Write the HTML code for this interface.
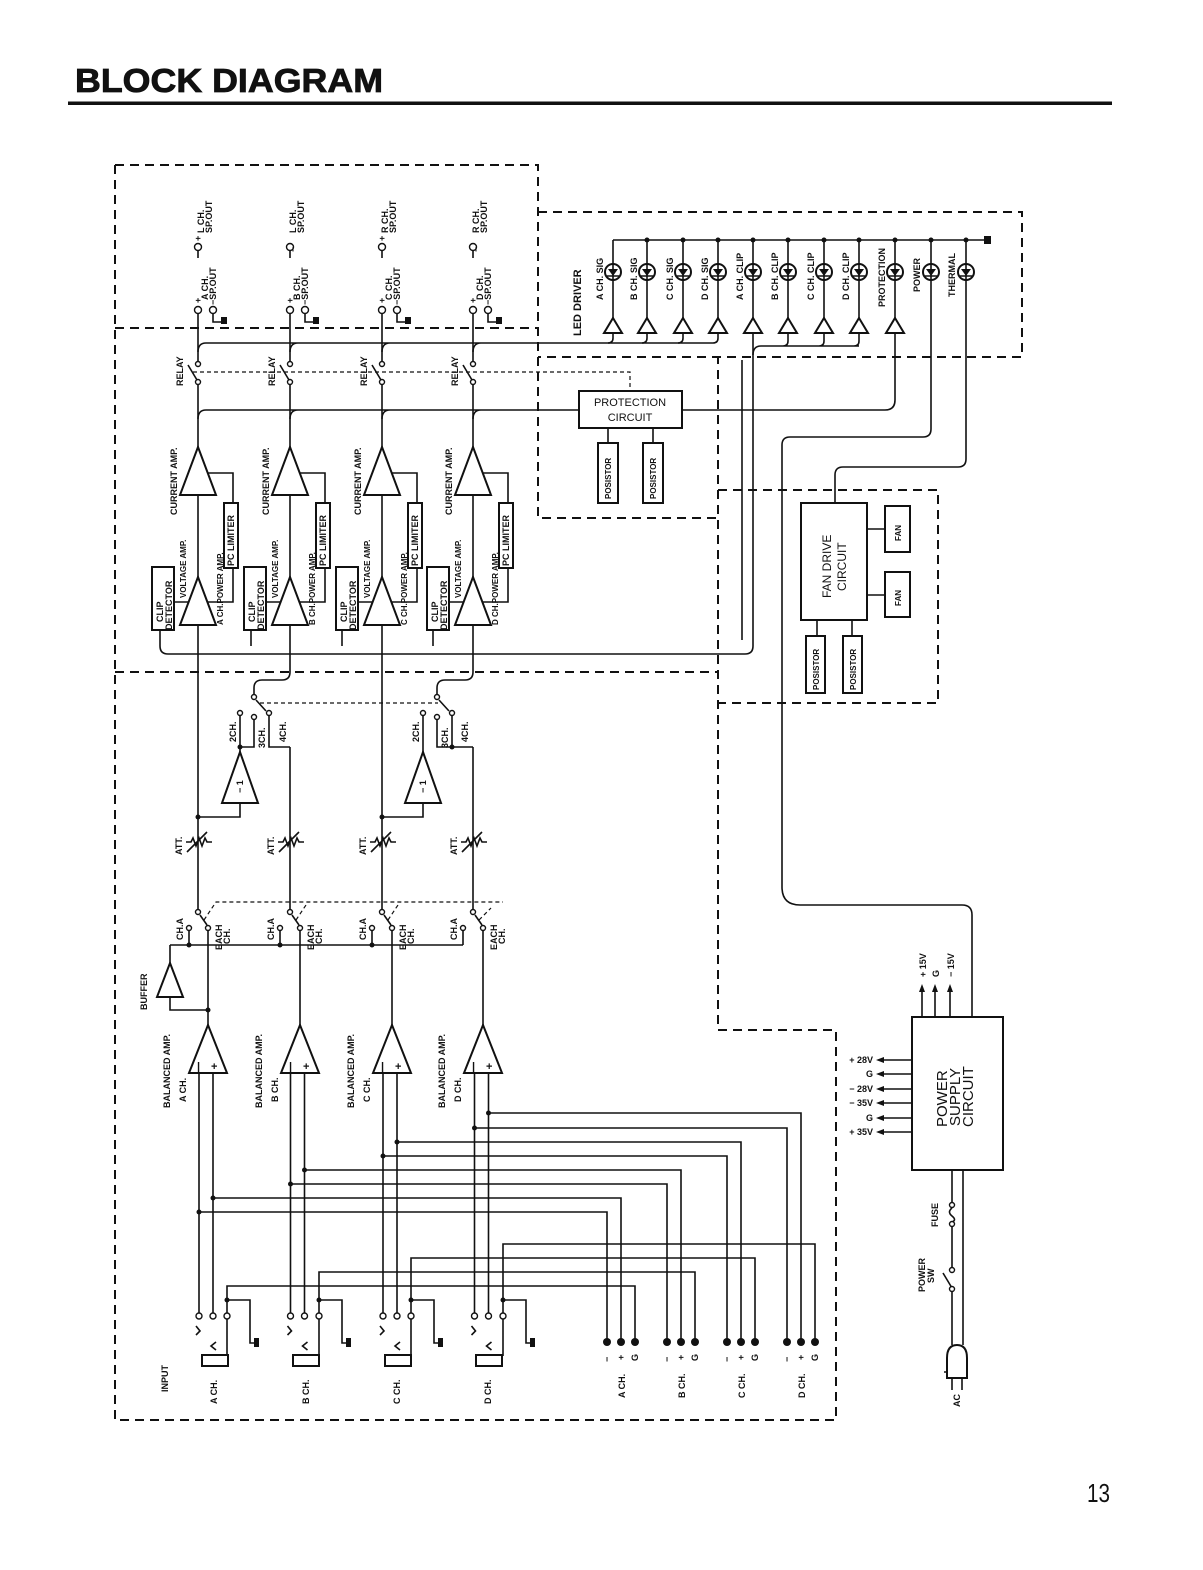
<!DOCTYPE html>
<html><head><meta charset="utf-8"><style>
html,body{margin:0;padding:0;background:#fff;}
svg{display:block;}
text{font-family:"Liberation Sans",sans-serif;font-weight:bold;fill:#111;}
.t{font-size:9px;}
.s{font-size:8px;}
.u{font-size:8px;}
.l{fill:none;stroke:#111;stroke-width:1.6;}
.d{fill:none;stroke:#111;stroke-width:2;stroke-dasharray:9,6;}
.dd{fill:none;stroke:#111;stroke-width:1.2;stroke-dasharray:4,3;}
.o{fill:#fff;stroke:#111;stroke-width:1.4;}
.b{fill:#fff;stroke:#111;stroke-width:2;}
.f{fill:#111;}
</style></head><body>
<svg width="1203" height="1570" viewBox="0 0 1203 1570" xmlns="http://www.w3.org/2000/svg">
<text x="75" y="92" style="font-size:33px;font-weight:bold;stroke:#111;stroke-width:0.8" textLength="308" lengthAdjust="spacingAndGlyphs">BLOCK DIAGRAM</text>
<rect x="68" y="101.5" width="1044" height="3.5" fill="#111"/>
<text x="1087" y="1502" style="font-size:26px;font-weight:normal" textLength="23" lengthAdjust="spacingAndGlyphs">13</text>

<!-- dashed boxes -->
<path class="d" d="M115,165 H538 V518 H718 M115,165 V1420 H836 V1030 H718 V357 M115,328 H538 M538,212 H1022 V357 H538 M115,672 H718 M718,490 H938 V703 H718"/>

<!-- global buses -->
<path class="l" d="M198,352 Q198,343 206,343 H713 M290,352 Q290,343 298,343 M382,352 Q382,343 390,343 M473,352 Q473,343 481,343"/>
<path class="l" d="M198,419 Q198,410 206,410 H579 M290,419 Q290,410 298,410 M382,419 Q382,410 390,410 M473,419 Q473,410 481,410"/>
<path class="dd" d="M193,372 H630 V391"/>
<path class="l" d="M160,630 V646 Q160,654 168,654 H745 Q753,654 753,646 V333 M251,630 V646 M342,630 V646 M433,630 V646"/>
<path class="l" d="M742,360 V640"/>

<!-- channel top groups -->
<g>
<path class="l" d="M198,258 V251 M198,313 V361 M198,385 V447 M213,313 V322 H222 M188,365 L197,380 M198,495 V577 M207,473 H233 V503 M233,568 V602 H206 M174,602 H189 M198,625 V672"/>
<circle class="o" cx="198" cy="247" r="3.5"/><circle class="o" cx="198" cy="310" r="3.5"/><circle class="o" cx="213" cy="310" r="3.5"/>
<circle class="o" cx="198" cy="364" r="2.5"/><circle class="o" cx="198" cy="382" r="2.5"/>
<rect class="f" x="221" y="317" width="6" height="7"/>
<polygon class="b" points="198,447 216,495 180,495"/>
<polygon class="b" points="198,577 216,625 180,625"/>
<rect class="b" x="224" y="503" width="14" height="65"/>
<rect class="b" x="152" y="567" width="22" height="63"/>
<text class="t" transform="translate(201,241) rotate(-90)">+</text>
<text class="t" transform="translate(204,233) rotate(-90)">L CH.</text>
<text class="t" transform="translate(212,233) rotate(-90)">SP.OUT</text>
<text class="t" transform="translate(201,303) rotate(-90)">+</text>
<text class="t" transform="translate(208,300) rotate(-90)">A CH.</text>
<text class="t" transform="translate(216,305) rotate(-90)">−SP.OUT</text>
<text class="t" transform="translate(183,386) rotate(-90)">RELAY</text>
<text class="t" transform="translate(177,515) rotate(-90)">CURRENT  AMP.</text>
<text class="u" transform="translate(186,598) rotate(-90)">VOLTAGE  AMP.</text>
<text class="u" transform="translate(223,625) rotate(-90)">A  CH.POWER  AMP.</text>
<text class="t" transform="translate(234,566) rotate(-90)">PC LIMITER</text>
<text class="t" transform="translate(163,622) rotate(-90)">CLIP</text>
<text class="t" transform="translate(172,630) rotate(-90)">DETECTOR</text>
</g>
<g transform="translate(92,0)">
<path class="l" d="M198,258 V251 M198,313 V361 M198,385 V447 M213,313 V322 H222 M188,365 L197,380 M198,495 V577 M207,473 H233 V503 M233,568 V602 H206 M174,602 H189 M198,625 V672"/>
<circle class="o" cx="198" cy="247" r="3.5"/><circle class="o" cx="198" cy="310" r="3.5"/><circle class="o" cx="213" cy="310" r="3.5"/>
<circle class="o" cx="198" cy="364" r="2.5"/><circle class="o" cx="198" cy="382" r="2.5"/>
<rect class="f" x="221" y="317" width="6" height="7"/>
<polygon class="b" points="198,447 216,495 180,495"/>
<polygon class="b" points="198,577 216,625 180,625"/>
<rect class="b" x="224" y="503" width="14" height="65"/>
<rect class="b" x="152" y="567" width="22" height="63"/>
<text class="t" transform="translate(204,252) rotate(-90)">−</text>
<text class="t" transform="translate(204,233) rotate(-90)">L CH.</text>
<text class="t" transform="translate(212,233) rotate(-90)">SP.OUT</text>
<text class="t" transform="translate(201,303) rotate(-90)">+</text>
<text class="t" transform="translate(208,300) rotate(-90)">B CH.</text>
<text class="t" transform="translate(216,305) rotate(-90)">−SP.OUT</text>
<text class="t" transform="translate(183,386) rotate(-90)">RELAY</text>
<text class="t" transform="translate(177,515) rotate(-90)">CURRENT  AMP.</text>
<text class="u" transform="translate(186,598) rotate(-90)">VOLTAGE  AMP.</text>
<text class="u" transform="translate(223,625) rotate(-90)">B  CH.POWER  AMP.</text>
<text class="t" transform="translate(234,566) rotate(-90)">PC LIMITER</text>
<text class="t" transform="translate(163,622) rotate(-90)">CLIP</text>
<text class="t" transform="translate(172,630) rotate(-90)">DETECTOR</text>
</g>
<g transform="translate(184,0)">
<path class="l" d="M198,258 V251 M198,313 V361 M198,385 V447 M213,313 V322 H222 M188,365 L197,380 M198,495 V577 M207,473 H233 V503 M233,568 V602 H206 M174,602 H189 M198,625 V672"/>
<circle class="o" cx="198" cy="247" r="3.5"/><circle class="o" cx="198" cy="310" r="3.5"/><circle class="o" cx="213" cy="310" r="3.5"/>
<circle class="o" cx="198" cy="364" r="2.5"/><circle class="o" cx="198" cy="382" r="2.5"/>
<rect class="f" x="221" y="317" width="6" height="7"/>
<polygon class="b" points="198,447 216,495 180,495"/>
<polygon class="b" points="198,577 216,625 180,625"/>
<rect class="b" x="224" y="503" width="14" height="65"/>
<rect class="b" x="152" y="567" width="22" height="63"/>
<text class="t" transform="translate(201,241) rotate(-90)">+</text>
<text class="t" transform="translate(204,233) rotate(-90)">R CH.</text>
<text class="t" transform="translate(212,233) rotate(-90)">SP.OUT</text>
<text class="t" transform="translate(201,303) rotate(-90)">+</text>
<text class="t" transform="translate(208,300) rotate(-90)">C CH.</text>
<text class="t" transform="translate(216,305) rotate(-90)">−SP.OUT</text>
<text class="t" transform="translate(183,386) rotate(-90)">RELAY</text>
<text class="t" transform="translate(177,515) rotate(-90)">CURRENT  AMP.</text>
<text class="u" transform="translate(186,598) rotate(-90)">VOLTAGE  AMP.</text>
<text class="u" transform="translate(223,625) rotate(-90)">C  CH.POWER  AMP.</text>
<text class="t" transform="translate(234,566) rotate(-90)">PC LIMITER</text>
<text class="t" transform="translate(163,622) rotate(-90)">CLIP</text>
<text class="t" transform="translate(172,630) rotate(-90)">DETECTOR</text>
</g>
<g transform="translate(275,0)">
<path class="l" d="M198,258 V251 M198,313 V361 M198,385 V447 M213,313 V322 H222 M188,365 L197,380 M198,495 V577 M207,473 H233 V503 M233,568 V602 H206 M174,602 H189 M198,625 V672"/>
<circle class="o" cx="198" cy="247" r="3.5"/><circle class="o" cx="198" cy="310" r="3.5"/><circle class="o" cx="213" cy="310" r="3.5"/>
<circle class="o" cx="198" cy="364" r="2.5"/><circle class="o" cx="198" cy="382" r="2.5"/>
<rect class="f" x="221" y="317" width="6" height="7"/>
<polygon class="b" points="198,447 216,495 180,495"/>
<polygon class="b" points="198,577 216,625 180,625"/>
<rect class="b" x="224" y="503" width="14" height="65"/>
<rect class="b" x="152" y="567" width="22" height="63"/>
<text class="t" transform="translate(204,252) rotate(-90)">−</text>
<text class="t" transform="translate(204,233) rotate(-90)">R CH.</text>
<text class="t" transform="translate(212,233) rotate(-90)">SP.OUT</text>
<text class="t" transform="translate(201,303) rotate(-90)">+</text>
<text class="t" transform="translate(208,300) rotate(-90)">D CH.</text>
<text class="t" transform="translate(216,305) rotate(-90)">−SP.OUT</text>
<text class="t" transform="translate(183,386) rotate(-90)">RELAY</text>
<text class="t" transform="translate(177,515) rotate(-90)">CURRENT  AMP.</text>
<text class="u" transform="translate(186,598) rotate(-90)">VOLTAGE  AMP.</text>
<text class="u" transform="translate(223,625) rotate(-90)">D  CH.POWER  AMP.</text>
<text class="t" transform="translate(234,566) rotate(-90)">PC LIMITER</text>
<text class="t" transform="translate(163,622) rotate(-90)">CLIP</text>
<text class="t" transform="translate(172,630) rotate(-90)">DETECTOR</text>
</g>

<!-- LED driver -->
<path class="l" d="M613,240 H985 M613,240 V318 M647,240 V318 M683,240 V318 M718,240 V318 M753,240 V318 M788,240 V318 M824,240 V318 M859,240 V318 M895,240 V318"/>
<rect class="f" x="984" y="236" width="7" height="8"/>
<g class="f"><circle cx="647" cy="240" r="2.5"/><circle cx="683" cy="240" r="2.5"/><circle cx="718" cy="240" r="2.5"/><circle cx="753" cy="240" r="2.5"/><circle cx="788" cy="240" r="2.5"/><circle cx="824" cy="240" r="2.5"/><circle cx="859" cy="240" r="2.5"/><circle cx="895" cy="240" r="2.5"/><circle cx="931" cy="240" r="2.5"/><circle cx="966" cy="240" r="2.5"/></g>
<path class="l" d="M931,240 V429 Q931,437 923,437 H790 Q782,437 782,445 V887 Q782,905 800,905 H962 Q972,905 972,915 V1017"/>
<path class="l" d="M966,240 V459 Q966,467 958,467 H843 Q835,467 835,475 V503"/>
<g>
<circle class="b" cx="613" cy="272" r="8"/><circle class="b" cx="647" cy="272" r="8"/><circle class="b" cx="683" cy="272" r="8"/><circle class="b" cx="718" cy="272" r="8"/><circle class="b" cx="753" cy="272" r="8"/><circle class="b" cx="788" cy="272" r="8"/><circle class="b" cx="824" cy="272" r="8"/><circle class="b" cx="859" cy="272" r="8"/><circle class="b" cx="895" cy="272" r="8"/><circle class="b" cx="931" cy="272" r="8"/><circle class="b" cx="966" cy="272" r="8"/>
</g>
<g class="f">
<polygon points="608,269 618,269 613,276"/><polygon points="642,269 652,269 647,276"/><polygon points="678,269 688,269 683,276"/><polygon points="713,269 723,269 718,276"/><polygon points="748,269 758,269 753,276"/><polygon points="783,269 793,269 788,276"/><polygon points="819,269 829,269 824,276"/><polygon points="854,269 864,269 859,276"/><polygon points="890,269 900,269 895,276"/><polygon points="926,269 936,269 931,276"/><polygon points="961,269 971,269 966,276"/>
</g>
<path class="l" d="M607,276 H619 M641,276 H653 M677,276 H689 M712,276 H724 M747,276 H759 M782,276 H794 M818,276 H830 M853,276 H865 M889,276 H901 M925,276 H937 M960,276 H972 M613,264 V281 M647,264 V281 M683,264 V281 M718,264 V281 M753,264 V281 M788,264 V281 M824,264 V281 M859,264 V281 M895,264 V281 M931,264 V281 M966,264 V281"/>
<g>
<polygon class="b" points="613,318 622,333 604,333"/><polygon class="b" points="647,318 656,333 638,333"/><polygon class="b" points="683,318 692,333 674,333"/><polygon class="b" points="718,318 727,333 709,333"/><polygon class="b" points="753,318 762,333 744,333"/><polygon class="b" points="788,318 797,333 779,333"/><polygon class="b" points="824,318 833,333 815,333"/><polygon class="b" points="859,318 868,333 850,333"/><polygon class="b" points="895,318 904,333 886,333"/>
</g>
<path class="l" d="M613,333 V338 Q613,343 608,343 M647,333 V338 Q647,343 642,343 M683,333 V338 Q683,343 678,343 M718,333 V338 Q718,343 713,343"/>
<path class="l" d="M753,355 Q753,346 761,346 H859 M788,333 V341 Q788,346 783,346 M824,333 V341 Q824,346 819,346 M859,333 V341 Q859,346 854,346"/>
<path class="l" d="M895,333 V400 Q895,410 885,410 H682"/>
<text style="font-size:11px" transform="translate(581,336) rotate(-90)">LED  DRIVER</text>
<text class="t" transform="translate(603,300) rotate(-90)">A  CH.  SIG</text>
<text class="t" transform="translate(637,300) rotate(-90)">B  CH.  SIG</text>
<text class="t" transform="translate(673,300) rotate(-90)">C  CH.  SIG</text>
<text class="t" transform="translate(708,300) rotate(-90)">D  CH.  SIG</text>
<text class="t" transform="translate(743,300) rotate(-90)">A  CH.  CLIP</text>
<text class="t" transform="translate(778,300) rotate(-90)">B  CH.  CLIP</text>
<text class="t" transform="translate(814,300) rotate(-90)">C  CH.  CLIP</text>
<text class="t" transform="translate(849,300) rotate(-90)">D  CH.  CLIP</text>
<text class="t" transform="translate(885,307) rotate(-90)">PROTECTION</text>
<text class="t" transform="translate(920,292) rotate(-90)">POWER</text>
<text class="t" transform="translate(955,297) rotate(-90)">THERMAL</text>

<!-- protection -->
<rect class="b" x="579" y="391" width="103" height="37"/>
<text x="630" y="406" text-anchor="middle" style="font-size:11px;font-weight:normal">PROTECTION</text>
<text x="630" y="421" text-anchor="middle" style="font-size:11px;font-weight:normal">CIRCUIT</text>
<path class="l" d="M608,428 V443 M653,428 V443"/>
<rect class="b" x="598" y="443" width="20" height="60"/><rect class="b" x="643" y="443" width="20" height="60"/>
<text class="s" transform="translate(611,499) rotate(-90)">POSISTOR</text>
<text class="s" transform="translate(656,499) rotate(-90)">POSISTOR</text>

<!-- fan -->
<rect class="b" x="801" y="503" width="66" height="117"/>
<text style="font-size:12px;font-weight:normal" transform="translate(831,598) rotate(-90)">FAN  DRIVE</text>
<text style="font-size:12px;font-weight:normal" transform="translate(846,591) rotate(-90)">CIRCUIT</text>
<path class="l" d="M867,529 H885 M867,595 H885 M817,620 V636 M852,620 V636"/>
<rect class="b" x="885" y="506" width="25" height="46"/><rect class="b" x="885" y="572" width="25" height="45"/>
<text class="s" transform="translate(901,541) rotate(-90)">FAN</text>
<text class="s" transform="translate(901,606) rotate(-90)">FAN</text>
<rect class="b" x="806" y="636" width="19" height="57"/><rect class="b" x="843" y="636" width="19" height="57"/>
<text class="s" transform="translate(819,690) rotate(-90)">POSISTOR</text>
<text class="s" transform="translate(856,690) rotate(-90)">POSISTOR</text>

<!-- lower section -->
<path class="l" d="M198,672 V912 M382,672 V912 M290,672 Q290,680 282,680 H262 Q254,680 254,688 V695 M473,672 Q473,680 465,680 H445 Q437,680 437,688 V695 M290,747 V912 M473,747 V912"/>
<path class="l" d="M240,716 V752 M254,720 V747 H240 M269,716 V747 H290 M240,803 V817 H198"/>
<path class="l" d="M423,716 V752 M437,720 V747 H452 M452,716 V747 H473 M423,803 V817 H382"/>
<path class="l" d="M256,700 L266,711 M439,700 L449,711"/>
<path class="dd" d="M260,703 H438"/>
<g class="f"><circle cx="240" cy="747" r="2.5"/><circle cx="452" cy="747" r="2.5"/><circle cx="198" cy="817" r="2.5"/><circle cx="382" cy="817" r="2.5"/></g>
<circle class="o" cx="254" cy="697" r="2.5"/><circle class="o" cx="240" cy="713" r="2.5"/><circle class="o" cx="254" cy="717" r="2.5"/><circle class="o" cx="269" cy="713" r="2.5"/>
<circle class="o" cx="437" cy="697" r="2.5"/><circle class="o" cx="423" cy="713" r="2.5"/><circle class="o" cx="437" cy="717" r="2.5"/><circle class="o" cx="452" cy="713" r="2.5"/>
<polygon class="b" points="240,752 258,803 222,803"/><polygon class="b" points="423,752 441,803 405,803"/>
<text class="t" transform="translate(243,793) rotate(-90)">− 1</text>
<text class="t" transform="translate(426,793) rotate(-90)">− 1</text>
<text class="t" transform="translate(236,742) rotate(-90)">2CH.</text>
<text class="t" transform="translate(265,748) rotate(-90)">3CH.</text>
<text class="t" transform="translate(286,742) rotate(-90)">4CH.</text>
<text class="t" transform="translate(419,742) rotate(-90)">2CH.</text>
<text class="t" transform="translate(448,748) rotate(-90)">3CH.</text>
<text class="t" transform="translate(468,742) rotate(-90)">4CH.</text>

<!-- ATT -->
<g>
<path class="l" d="M186,842 H191 L193,838 L196,846 L199,838 L202,846 L205,838 L207,842 H212 M187,852 L207,832"/>
<path class="l" d="M278,842 H283 L285,838 L288,846 L291,838 L294,846 L297,838 L299,842 H304 M279,852 L299,832"/>
<path class="l" d="M370,842 H375 L377,838 L380,846 L383,838 L386,846 L389,838 L391,842 H396 M371,852 L391,832"/>
<path class="l" d="M461,842 H466 L468,838 L471,846 L474,838 L477,846 L480,838 L482,842 H487 M462,852 L482,832"/>
</g>
<text class="t" transform="translate(182,855) rotate(-90)">ATT.</text>
<text class="t" transform="translate(274,855) rotate(-90)">ATT.</text>
<text class="t" transform="translate(366,855) rotate(-90)">ATT.</text>
<text class="t" transform="translate(457,855) rotate(-90)">ATT.</text>

<!-- select switches -->
<path class="l" d="M200,915 L207,925 M292,915 L299,925 M384,915 L391,925 M475,915 L482,925"/>
<path class="dd" d="M204,920 L216,902 H503 M296,920 L308,902 M388,920 L400,902 M479,920 L491,908"/>
<path class="l" d="M189,930 V945 M280,930 V945 M372,930 V945 M463,930 V945 M170,945 H463 M170,945 V963 M170,997 V1010 H208"/>
<path class="l" d="M208,930 V1025 M300,930 V1025 M392,930 V1025 M483,930 V1025"/>
<g class="f"><circle cx="189" cy="945" r="2.5"/><circle cx="280" cy="945" r="2.5"/><circle cx="372" cy="945" r="2.5"/><circle cx="208" cy="1010" r="2.5"/></g>
<g>
<circle class="o" cx="198" cy="912" r="2.5"/><circle class="o" cx="208" cy="928" r="2.5"/><circle class="o" cx="189" cy="928" r="2.5"/>
<circle class="o" cx="290" cy="912" r="2.5"/><circle class="o" cx="300" cy="928" r="2.5"/><circle class="o" cx="280" cy="928" r="2.5"/>
<circle class="o" cx="382" cy="912" r="2.5"/><circle class="o" cx="392" cy="928" r="2.5"/><circle class="o" cx="372" cy="928" r="2.5"/>
<circle class="o" cx="473" cy="912" r="2.5"/><circle class="o" cx="483" cy="928" r="2.5"/><circle class="o" cx="463" cy="928" r="2.5"/>
</g>
<text class="t" transform="translate(183,940) rotate(-90)">CH.A</text>
<text class="t" transform="translate(274,940) rotate(-90)">CH.A</text>
<text class="t" transform="translate(366,940) rotate(-90)">CH.A</text>
<text class="t" transform="translate(457,940) rotate(-90)">CH.A</text>
<text class="t" transform="translate(222,950) rotate(-90)">EACH</text><text class="t" transform="translate(230,944) rotate(-90)">CH.</text>
<text class="t" transform="translate(314,950) rotate(-90)">EACH</text><text class="t" transform="translate(322,944) rotate(-90)">CH.</text>
<text class="t" transform="translate(406,950) rotate(-90)">EACH</text><text class="t" transform="translate(414,944) rotate(-90)">CH.</text>
<text class="t" transform="translate(497,950) rotate(-90)">EACH</text><text class="t" transform="translate(505,944) rotate(-90)">CH.</text>
<polygon class="b" points="170,963 183,997 157,997"/>
<text class="t" transform="translate(147,1010) rotate(-90)">BUFFER</text>

<!-- balanced amps -->
<polygon class="b" points="208,1025 227,1073 189,1073"/>
<polygon class="b" points="300,1025 319,1073 281,1073"/>
<polygon class="b" points="392,1025 411,1073 373,1073"/>
<polygon class="b" points="483,1025 502,1073 464,1073"/>
<g style="font-size:11px">
<text x="197" y="1070">|</text><text x="211" y="1070">+</text>
<text x="289" y="1070">|</text><text x="303" y="1070">+</text>
<text x="381" y="1070">|</text><text x="395" y="1070">+</text>
<text x="472" y="1070">|</text><text x="486" y="1070">+</text>
</g>
<text class="t" transform="translate(170,1108) rotate(-90)">BALANCED  AMP.</text><text class="t" transform="translate(186,1102) rotate(-90)">A  CH.</text>
<text class="t" transform="translate(262,1108) rotate(-90)">BALANCED  AMP.</text><text class="t" transform="translate(278,1102) rotate(-90)">B  CH.</text>
<text class="t" transform="translate(354,1108) rotate(-90)">BALANCED  AMP.</text><text class="t" transform="translate(370,1102) rotate(-90)">C  CH.</text>
<text class="t" transform="translate(445,1108) rotate(-90)">BALANCED  AMP.</text><text class="t" transform="translate(461,1102) rotate(-90)">D  CH.</text>

<!-- input wiring -->
<path class="l" d="M199,1073 V1313 M213,1073 V1313 M290.5,1073 V1313 M304.5,1073 V1313 M383,1073 V1313 M397,1073 V1313 M474.5,1073 V1313 M488.5,1073 V1313"/>
<path class="l" d="M488.5,1113 H801 V1342 M474.5,1128 H787 V1342 M397,1142 H741 V1342 M383,1156 H727 V1342 M304.5,1170 H681 V1342 M290.5,1184 H667 V1342 M213,1198 H621 V1342 M199,1212 H607 V1342"/>
<path class="l" d="M503,1313 V1244 H815 V1342 M411,1313 V1258 H755 V1342 M319,1313 V1272 H695 V1342 M227,1313 V1286 H635 V1342"/>
<path class="l" d="M227,1300 H250 V1343 H255 M319,1300 H342 V1343 H347 M411,1300 H434 V1343 H439 M503,1300 H526 V1343 H531"/>
<g class="f">
<rect x="254" y="1338" width="5" height="9"/><rect x="346" y="1338" width="5" height="9"/><rect x="438" y="1338" width="5" height="9"/><rect x="530" y="1338" width="5" height="9"/>
<circle cx="199" cy="1212" r="2.5"/><circle cx="213" cy="1198" r="2.5"/><circle cx="290.5" cy="1184" r="2.5"/><circle cx="304.5" cy="1170" r="2.5"/><circle cx="383" cy="1156" r="2.5"/><circle cx="397" cy="1142" r="2.5"/><circle cx="474.5" cy="1128" r="2.5"/><circle cx="488.5" cy="1113" r="2.5"/>
<circle cx="227" cy="1300" r="2.5"/><circle cx="319" cy="1300" r="2.5"/><circle cx="411" cy="1300" r="2.5"/><circle cx="503" cy="1300" r="2.5"/>
<circle cx="607" cy="1342" r="4"/><circle cx="621" cy="1342" r="4"/><circle cx="635" cy="1342" r="4"/>
<circle cx="667" cy="1342" r="4"/><circle cx="681" cy="1342" r="4"/><circle cx="695" cy="1342" r="4"/>
<circle cx="727" cy="1342" r="4"/><circle cx="741" cy="1342" r="4"/><circle cx="755" cy="1342" r="4"/>
<circle cx="787" cy="1342" r="4"/><circle cx="801" cy="1342" r="4"/><circle cx="815" cy="1342" r="4"/>
</g>
<g>
<circle class="o" cx="199" cy="1316" r="3"/><circle class="o" cx="213" cy="1316" r="3"/><circle class="o" cx="227" cy="1316" r="3"/>
<circle class="o" cx="290.5" cy="1316" r="3"/><circle class="o" cx="304.5" cy="1316" r="3"/><circle class="o" cx="319" cy="1316" r="3"/>
<circle class="o" cx="383" cy="1316" r="3"/><circle class="o" cx="397" cy="1316" r="3"/><circle class="o" cx="411" cy="1316" r="3"/>
<circle class="o" cx="474.5" cy="1316" r="3"/><circle class="o" cx="488.5" cy="1316" r="3"/><circle class="o" cx="503" cy="1316" r="3"/>
</g>
<path class="l" d="M196,1326 L200,1331 L196,1335 M216,1342 L211,1346 L216,1350 M227,1319 V1356 M287.5,1326 L291.5,1331 L287.5,1335 M307.5,1342 L302.5,1346 L307.5,1350 M319,1319 V1356 M380,1326 L384,1331 L380,1335 M400,1342 L395,1346 L400,1350 M411,1319 V1356 M471.5,1326 L475.5,1331 L471.5,1335 M491.5,1342 L486.5,1346 L491.5,1350 M503,1319 V1356"/>
<rect class="b" x="202" y="1355" width="26" height="11"/><rect class="b" x="293" y="1355" width="26" height="11"/><rect class="b" x="385" y="1355" width="26" height="11"/><rect class="b" x="476" y="1355" width="26" height="11"/>
<text class="t" transform="translate(168,1392) rotate(-90)">INPUT</text>
<text class="t" transform="translate(217,1404) rotate(-90)">A  CH.</text>
<text class="t" transform="translate(309,1404) rotate(-90)">B  CH.</text>
<text class="t" transform="translate(400,1404) rotate(-90)">C  CH.</text>
<text class="t" transform="translate(491,1404) rotate(-90)">D  CH.</text>
<g class="t">
<text transform="translate(610,1362) rotate(-90)">−</text><text transform="translate(624,1360) rotate(-90)">+</text><text transform="translate(638,1361) rotate(-90)">G</text>
<text transform="translate(670,1362) rotate(-90)">−</text><text transform="translate(684,1360) rotate(-90)">+</text><text transform="translate(698,1361) rotate(-90)">G</text>
<text transform="translate(730,1362) rotate(-90)">−</text><text transform="translate(744,1360) rotate(-90)">+</text><text transform="translate(758,1361) rotate(-90)">G</text>
<text transform="translate(790,1362) rotate(-90)">−</text><text transform="translate(804,1360) rotate(-90)">+</text><text transform="translate(818,1361) rotate(-90)">G</text>
<text transform="translate(625,1398) rotate(-90)">A  CH.</text>
<text transform="translate(685,1398) rotate(-90)">B  CH.</text>
<text transform="translate(745,1398) rotate(-90)">C  CH.</text>
<text transform="translate(805,1398) rotate(-90)">D  CH.</text>
</g>

<!-- power supply -->
<rect class="b" x="912" y="1017" width="91" height="153"/>
<text style="font-size:15px;font-weight:normal" transform="translate(947,1127) rotate(-90)">POWER</text>
<text style="font-size:15px;font-weight:normal" transform="translate(960,1126) rotate(-90)">SUPPLY</text>
<text style="font-size:15px;font-weight:normal" transform="translate(973,1127) rotate(-90)">CIRCUIT</text>
<path class="l" d="M912,1060 H880 M912,1074 H880 M912,1089 H880 M912,1103 H880 M912,1118 H880 M912,1132 H880 M922,1017 V988 M935,1017 V988 M950,1017 V988"/>
<g class="f">
<polygon points="876,1060 884,1057 884,1063"/><polygon points="876,1074 884,1071 884,1077"/><polygon points="876,1089 884,1086 884,1092"/><polygon points="876,1103 884,1100 884,1106"/><polygon points="876,1118 884,1115 884,1121"/><polygon points="876,1132 884,1129 884,1135"/>
<polygon points="922,984 919,992 925,992"/><polygon points="935,984 932,992 938,992"/><polygon points="950,984 947,992 953,992"/>
</g>
<g class="t" text-anchor="end">
<text x="873" y="1063">+ 28V</text><text x="873" y="1077">G</text><text x="873" y="1092">− 28V</text><text x="873" y="1106">− 35V</text><text x="873" y="1121">G</text><text x="873" y="1135">+ 35V</text>
</g>
<text class="t" transform="translate(926,977) rotate(-90)">+ 15V</text>
<text class="t" transform="translate(939,977) rotate(-90)">G</text>
<text class="t" transform="translate(954,977) rotate(-90)">− 15V</text>
<path class="l" d="M952,1170 V1202 M952,1208 Q947,1212 952,1216 Q957,1220 952,1222 M952,1226 V1267 M952,1291 V1345 M963,1170 V1345 M943,1273 L952,1288"/>
<circle class="o" cx="952" cy="1205" r="2.5"/><circle class="o" cx="952" cy="1224" r="2.5"/><circle class="o" cx="952" cy="1270" r="2.5"/><circle class="o" cx="952" cy="1289" r="2.5"/>
<path class="b" d="M947,1378 V1358 Q947,1345 957,1345 Q967,1345 967,1358 V1378 Z"/>
<path class="l" d="M944,1372 H947 M952,1378 V1390 M962,1378 V1390"/>
<text class="t" transform="translate(938,1227) rotate(-90)">FUSE</text>
<text class="t" transform="translate(925,1292) rotate(-90)">POWER</text>
<text class="t" transform="translate(934,1283) rotate(-90)">SW</text>
<text class="t" transform="translate(960,1407) rotate(-90)">AC</text>
</svg>
</body></html>
